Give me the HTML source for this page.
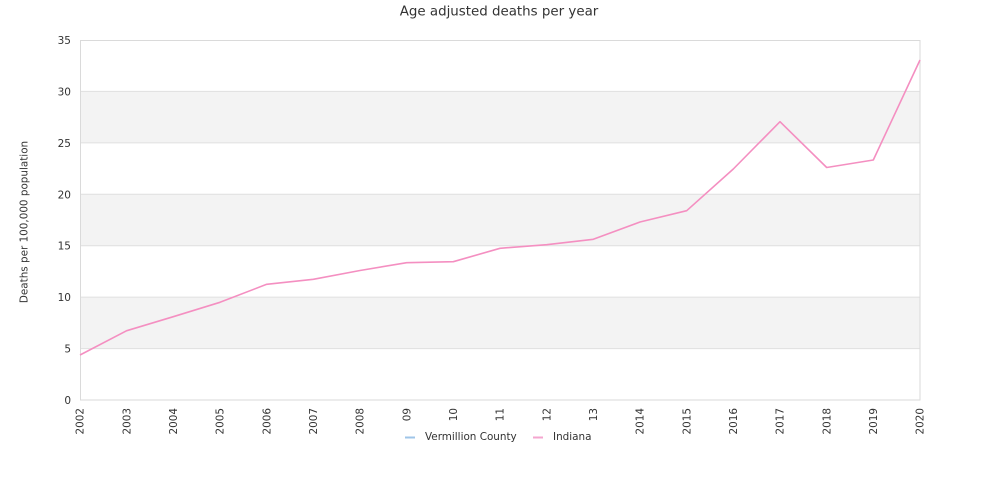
<!DOCTYPE html>
<html><head><meta charset="utf-8"><style>
html,body{margin:0;padding:0;background:#fff;}
svg{display:block;}
text{font-family:"DejaVu Sans","Liberation Sans",sans-serif;fill:#333;}
</style></head><body>
<svg width="1000" height="500" viewBox="0 0 1000 500" xmlns="http://www.w3.org/2000/svg">
<rect x="0" y="0" width="1000" height="500" fill="#fff"/>
<text x="499" y="15.5" font-size="13.4" text-anchor="middle" fill="#444">Age adjusted deaths per year</text>
<!-- bands -->
<rect x="80" y="91.43" width="840" height="51.43" fill="#f3f3f3"/>
<rect x="80" y="194.29" width="840" height="51.43" fill="#f3f3f3"/>
<rect x="80" y="297.14" width="840" height="51.43" fill="#f3f3f3"/>
<!-- grid -->
<g stroke="#e0e0e0" stroke-width="1">
<line x1="80" x2="920" y1="91.43" y2="91.43"/>
<line x1="80" x2="920" y1="142.86" y2="142.86"/>
<line x1="80" x2="920" y1="194.29" y2="194.29"/>
<line x1="80" x2="920" y1="245.71" y2="245.71"/>
<line x1="80" x2="920" y1="297.14" y2="297.14"/>
<line x1="80" x2="920" y1="348.57" y2="348.57"/>
</g>
<rect x="80.5" y="40.5" width="839.5" height="359.5" fill="none" stroke="#dadada" stroke-width="1"/>
<!-- y ticks -->
<g font-size="10.5" text-anchor="end">
<text x="71" y="44">35</text>
<text x="71" y="95.4">30</text>
<text x="71" y="146.9">25</text>
<text x="71" y="198.3">20</text>
<text x="71" y="249.7">15</text>
<text x="71" y="301.1">10</text>
<text x="71" y="352.6">5</text>
<text x="71" y="404">0</text>
</g>
<text transform="translate(27.5,222) rotate(-90)" font-size="10.4" text-anchor="middle">Deaths per 100,000 population</text>
<!-- x ticks -->
<g font-size="10.4" text-anchor="end">
<text transform="translate(83.7,408) rotate(-90)">2002</text>
<text transform="translate(130.4,408) rotate(-90)">2003</text>
<text transform="translate(177,408) rotate(-90)">2004</text>
<text transform="translate(223.7,408) rotate(-90)">2005</text>
<text transform="translate(270.4,408) rotate(-90)">2006</text>
<text transform="translate(317,408) rotate(-90)">2007</text>
<text transform="translate(363.7,408) rotate(-90)">2008</text>
<text transform="translate(410.4,408) rotate(-90)">09</text>
<text transform="translate(457,408) rotate(-90)">10</text>
<text transform="translate(503.7,408) rotate(-90)">11</text>
<text transform="translate(550.4,408) rotate(-90)">12</text>
<text transform="translate(597,408) rotate(-90)">13</text>
<text transform="translate(643.7,408) rotate(-90)">2014</text>
<text transform="translate(690.4,408) rotate(-90)">2015</text>
<text transform="translate(737,408) rotate(-90)">2016</text>
<text transform="translate(783.7,408) rotate(-90)">2017</text>
<text transform="translate(830.4,408) rotate(-90)">2018</text>
<text transform="translate(877,408) rotate(-90)">2019</text>
<text transform="translate(923.7,408) rotate(-90)">2020</text>
</g>
<!-- series -->
<polyline fill="none" stroke="#f48fc1" stroke-width="1.6" stroke-linejoin="round" points="80,355 126.7,330.7 173.3,316.7 220,302.3 266.7,284.3 313.3,279.3 360,270.5 406.7,262.7 453.3,261.7 500,248.3 546.7,244.7 593.3,239.3 640,222 686.7,210.7 733.3,169 780,121.7 826.7,167.5 873.3,160 920,60"/>
<!-- legend -->
<line x1="405" x2="415" y1="437.5" y2="437.5" stroke="#9fc5e8" stroke-width="2"/>
<text x="425" y="440" font-size="10.4" fill="#222">Vermillion County</text>
<line x1="533" x2="543" y1="437.5" y2="437.5" stroke="#f4a6cf" stroke-width="2"/>
<text x="553" y="440" font-size="10.4" fill="#222">Indiana</text>
</svg>
</body></html>
